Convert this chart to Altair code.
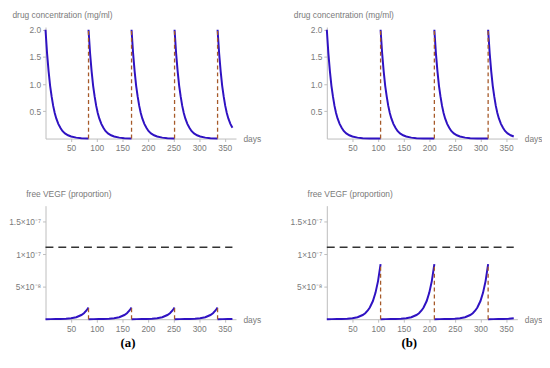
import altair as alt
import pandas as pd

# ---- data ----
DAYS_END = 365
SCENARIOS = ["a", "b"]
DOSES = {"a": [0, 84, 168, 252, 336], "b": [0, 105, 210, 315]}
INTERVAL = {"a": 84, "b": 105}

# drug concentration (mg/ml) vs days since dose
DRUG_T = [0, 3, 6, 9, 12, 15, 18, 21, 25, 29, 33, 38, 44, 50, 60, 70, 84, 95, 105]
DRUG_C = [2.0, 1.57, 1.24, 0.97, 0.77, 0.60, 0.47, 0.37, 0.27, 0.20, 0.14, 0.095,
          0.06, 0.037, 0.017, 0.007, 0.002, 0.001, 0.0004]

# free VEGF (proportion) vs days since dose
VEGF_T = [0, 10, 20, 29, 40, 50, 60, 70, 75, 80, 84, 90, 95, 100, 105]
VEGF_V = [3.6e-11, 7.5e-11, 1.6e-10, 3.1e-10, 6.9e-10, 1.45e-9, 3.0e-9, 6.4e-9,
          9.2e-9, 1.34e-8, 1.8e-8, 2.8e-8, 4.06e-8, 5.87e-8, 8.5e-8]

THRESHOLD = 1.11e-7

X_TICKS = [50, 100, 150, 200, 250, 300, 350]
DRUG_TICKS = [0.5, 1.0, 1.5, 2.0]
VEGF_TICKS = [5e-8, 1e-7, 1.5e-7]

BLUE = "#2f12c2"
BROWN = "#a65a2a"
GRAY = "#7a7a7a"
AXC = "#bdbdbd"
FONT = "Liberation Sans"

W, H_TOP, H_BOT = 193, 113, 115


def curve_table(sc, ts, vs):
    rows = []
    doses = DOSES[sc]
    for i, d in enumerate(doses):
        end = min(d + INTERVAL[sc], DAYS_END)
        for t, v in zip(ts, vs):
            if d + t <= end:
                rows.append({"cycle": i, "day": d + t, "val": v})
    return pd.DataFrame(rows)


def xaxis():
    return alt.X("day:Q", scale=alt.Scale(domain=[0, 372], nice=False),
                 axis=alt.Axis(values=X_TICKS, title="days", titleAngle=0,
                               titleAlign="left", titleBaseline="middle",
                               titleX=W + 7, titleY=0, labelOverlap=False,
                               labelFlush=False, tickCount=7))


def top_panel(sc):
    df = curve_table(sc, DRUG_T, DRUG_C)
    y = alt.Y("val:Q", scale=alt.Scale(domain=[0, 2.05], nice=False),
              axis=alt.Axis(values=DRUG_TICKS, format=".1f", labelOverlap=False,
                            labelFlush=False, tickCount=4,
                            title="drug concentration (mg/ml)", titleAngle=0,
                            titleAlign="left", titleBaseline="alphabetic",
                            titleX=-34, titleY=-10))
    line = alt.Chart(df).mark_line(color=BLUE, strokeWidth=2).encode(
        detail="cycle:N")
    rd = pd.DataFrame({"day": DOSES[sc][1:], "val": 0.0, "hi": DRUG_C[0]})
    rules = alt.Chart(rd).mark_rule(color=BROWN, strokeDash=[4, 3], strokeWidth=1.3).encode(
        y2="hi:Q")
    return alt.layer(line, rules).encode(x=xaxis(), y=y).properties(width=W, height=H_TOP)


def bottom_panel(sc):
    df = curve_table(sc, VEGF_T, VEGF_V)
    label_expr = ("datum.value > 1.2e-7 ? '1.5×10⁻⁷' : "
                  "datum.value > 0.8e-7 ? '1×10⁻⁷' : '5×10⁻⁸'")
    y = alt.Y("val:Q", scale=alt.Scale(domain=[0, 1.75e-7], nice=False),
              axis=alt.Axis(values=VEGF_TICKS, labelExpr=label_expr,
                            labelOverlap=False, labelFlush=False, tickCount=3,
                            title="free VEGF (proportion)", titleAngle=0,
                            titleAlign="left", titleBaseline="alphabetic",
                            titleX=-20, titleY=-9))
    line = alt.Chart(df).mark_line(color=BLUE, strokeWidth=2).encode(
        detail="cycle:N")
    peak = VEGF_V[VEGF_T.index(INTERVAL[sc])]
    rd = pd.DataFrame({"day": DOSES[sc][1:], "val": 0.0, "hi": peak})
    rules = alt.Chart(rd).mark_rule(color=BROWN, strokeDash=[4, 3], strokeWidth=1.3).encode(
        y2="hi:Q")
    th = pd.DataFrame({"day": [0], "d1": [DAYS_END], "val": [THRESHOLD]})
    thr = alt.Chart(th).mark_rule(color="#333333", strokeDash=[8, 5], strokeWidth=1.5).encode(
        x2="d1:Q")
    return alt.layer(thr, line, rules).encode(x=xaxis(), y=y).properties(
        width=W, height=H_BOT,
        title=alt.TitleParams(f"({sc})", orient="bottom", anchor="middle",
                              font="Liberation Serif", fontWeight="bold",
                              fontSize=13, color="black", dx=-13, offset=5))


chart = alt.concat(
    top_panel("a"), top_panel("b"), bottom_panel("a"), bottom_panel("b"),
    columns=2, spacing={"row": 68, "column": 92}, bounds="flush",
).properties(padding=0).configure_view(stroke=None).configure_axis(
    grid=False, domainColor=AXC, tickColor=AXC, tickSize=3, labelColor=GRAY,
    labelFont=FONT, labelFontSize=8.5, labelPadding=2, titleColor=GRAY,
    titleFont=FONT, titleFontSize=8.5, titleFontWeight="normal",
)

chart.save("out.html", embed_options={"renderer": "svg", "actions": False})
